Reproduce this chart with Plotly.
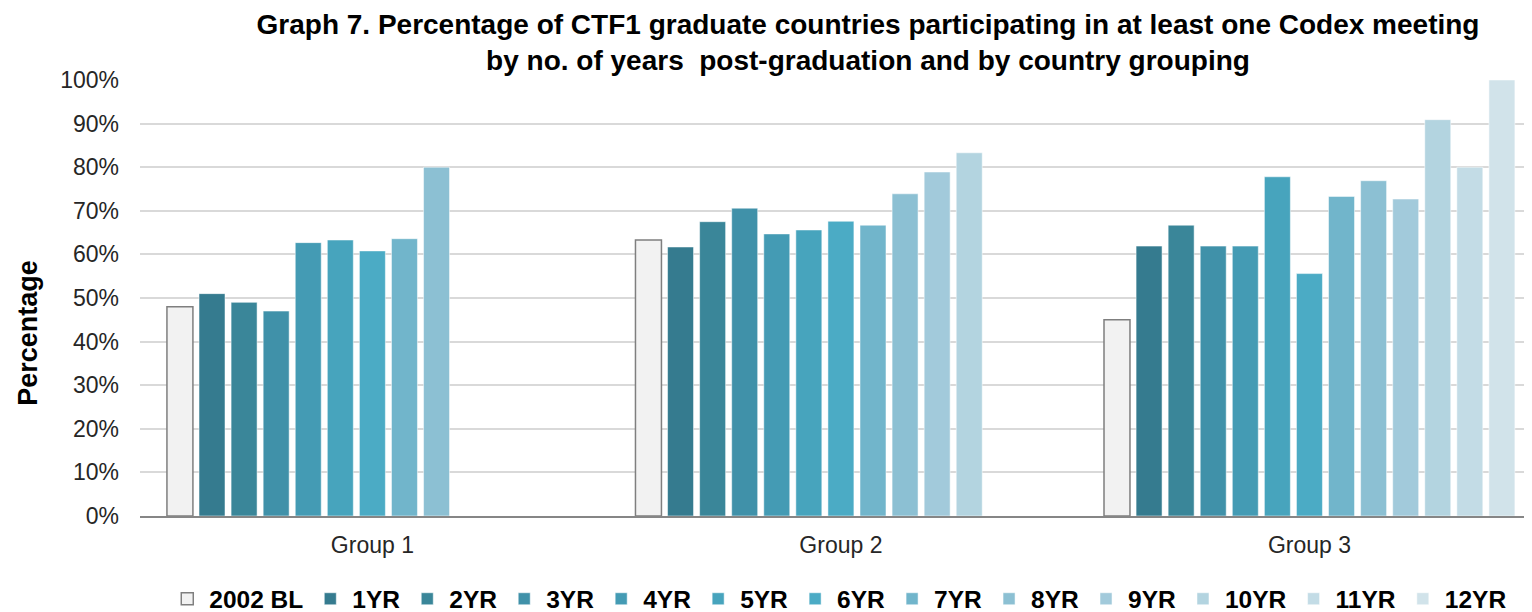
import plotly.graph_objects as go

groups = ["Group 1", "Group 2", "Group 3"]
series_names = ["2002 BL", "1YR", "2YR", "3YR", "4YR", "5YR", "6YR",
                "7YR", "8YR", "9YR", "10YR", "11YR", "12YR"]

bl_2002 = [0.48, 0.633, 0.45]
yr1 = [0.51, 0.617, 0.619]
yr2 = [0.49, 0.675, 0.667]
yr3 = [0.47, 0.706, 0.619]
yr4 = [0.627, 0.647, 0.619]
yr5 = [0.633, 0.656, 0.778]
yr6 = [0.608, 0.676, 0.556]
yr7 = [0.636, 0.667, 0.733]
yr8 = [0.80, 0.739, 0.769]
yr9 = [None, 0.789, 0.727]
yr10 = [None, 0.833, 0.909]
yr11 = [None, None, 0.80]
yr12 = [None, None, 1.00]

series_values = [bl_2002, yr1, yr2, yr3, yr4, yr5, yr6, yr7, yr8, yr9, yr10, yr11, yr12]

colors = ["#f2f2f2", "#357b8f", "#3a8699", "#4091a9", "#449bb4", "#47a4bd",
          "#4babc5", "#71b5cb", "#8cc0d3", "#a2cadb", "#b3d4e0", "#c3dce6", "#d1e3ea"]

tick_vals = [0, 0.1, 0.2, 0.3, 0.4, 0.5, 0.6, 0.7, 0.8, 0.9, 1.0]

fig = go.Figure()
for i, (name, vals) in enumerate(zip(series_names, series_values)):
    if i == 0:
        line = dict(color="#7f7f7f", width=1.5)
    else:
        line = dict(color="rgba(255,255,255,0.5)", width=1)
    fig.add_trace(go.Bar(
        name=name, x=groups, y=vals,
        marker=dict(color=colors[i], line=line),
    ))

FONT = "Liberation Sans, Arial, sans-serif"
W, H = 1524, 604

fig.update_layout(
    width=W, height=H,
    barmode="group", bargap=0.11, bargroupgap=0.19,
    plot_bgcolor="white", paper_bgcolor="white",
    margin=dict(l=132, r=0, t=72, b=96, autoexpand=False),
    title=dict(
        text="Graph 7. Percentage of CTF1 graduate countries participating in at least one Codex meeting<br>by no. of years  post-graduation and by country grouping",
        font=dict(family=FONT, size=28, color="#000000", weight="bold"),
        x=860 / W, xanchor="center", xref="container",
        y=1 - 25.5 / H, yanchor="middle", yref="container",
        automargin=False,
    ),
    font=dict(family=FONT, color="#262626"),
    legend=dict(
        orientation="h", x=0.502, xanchor="center", y=-0.19, yanchor="middle",
        font=dict(family=FONT, size=24.5, color="#000000", weight="bold"),
        traceorder="normal", itemwidth=34,
    ),
    showlegend=True,
    annotations=[dict(
        text="Percentage", textangle=-90,
        xref="paper", yref="paper", x=-0.0805, y=0.42,
        xanchor="center", yanchor="middle", showarrow=False,
        font=dict(family=FONT, size=27, color="#000000", weight="bold"),
    )],
)

fig.update_yaxes(
    range=[0, 1.0], tickvals=tick_vals, tickformat=".0%",
    showgrid=True, gridcolor="#d9d9d9", gridwidth=1.5,
    zeroline=False, showline=False, automargin=False,
    tickfont=dict(family=FONT, size=23, color="#262626"),
    ticklabelstandoff=20,
)
fig.update_xaxes(
    range=[-0.496, 2.475],
    showline=True, linecolor="#868686", linewidth=2, automargin=False,
    tickfont=dict(family=FONT, size=23, color="#262626"),
    ticklabelstandoff=7,
)

fig.write_html("out.html")
